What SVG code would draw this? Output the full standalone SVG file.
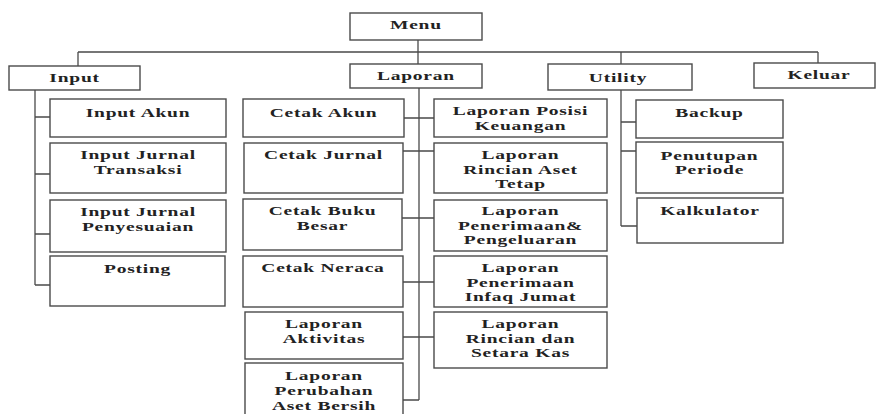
<svg xmlns="http://www.w3.org/2000/svg" width="876" height="414" viewBox="0 0 876 414">
<style>
.box{fill:#fff;stroke:#4a4a4a;stroke-width:1.4}
.ln{fill:none;stroke:#4a4a4a;stroke-width:1.3}
text{font-family:"Liberation Serif","Times New Roman",serif;font-size:13px;font-weight:bold;fill:#222;text-anchor:middle;letter-spacing:0.5px}
</style>
<rect width="876" height="414" fill="#fff"/>
<g id="connectors" class="ln">
<path d="M418 40V64M78 52H818M78 52V66M621 52V64M818 52V63"/>
<path d="M35 90V285M35 117H50M35 174H50M35 234H50M35 285H50"/>
<path d="M419 88V400M404 118H434M403 151H434M402 218H434M403 282H434M403 337H434M403 400H419"/>
<path d="M621 90V226M621 122H636M621 151H636M621 226H637"/>
</g>
<g id="menu"><rect class="box" x="350" y="13" width="132" height="27"/></g>
<g id="input"><rect class="box" x="9" y="66" width="131" height="24"/></g>
<g id="laporan"><rect class="box" x="350" y="64" width="132" height="24"/></g>
<g id="utility"><rect class="box" x="548" y="64" width="144" height="26"/></g>
<g id="keluar"><rect class="box" x="754" y="63" width="121" height="25"/></g>
<g id="input-akun"><rect class="box" x="50" y="99" width="176" height="38"/></g>
<g id="input-jurnal-transaksi"><rect class="box" x="50" y="143" width="176" height="50"/></g>
<g id="input-jurnal-penyesuaian"><rect class="box" x="50" y="200" width="176" height="52"/></g>
<g id="posting"><rect class="box" x="50" y="256" width="175" height="50"/></g>
<g id="cetak-akun"><rect class="box" x="243" y="99" width="161" height="38"/></g>
<g id="cetak-jurnal"><rect class="box" x="244" y="143" width="159" height="50"/></g>
<g id="cetak-buku-besar"><rect class="box" x="243" y="199" width="159" height="51"/></g>
<g id="cetak-neraca"><rect class="box" x="243" y="256" width="160" height="51"/></g>
<g id="laporan-aktivitas"><rect class="box" x="245" y="312" width="158" height="47"/></g>
<g id="laporan-perubahan"><rect class="box" x="245" y="363" width="158" height="56"/></g>
<g id="laporan-posisi"><rect class="box" x="434" y="99" width="173" height="38"/></g>
<g id="laporan-rincian-aset"><rect class="box" x="434" y="143" width="173" height="50"/></g>
<g id="laporan-penerimaan-pengeluaran"><rect class="box" x="434" y="200" width="173" height="51"/></g>
<g id="laporan-infaq"><rect class="box" x="434" y="256" width="173" height="51"/></g>
<g id="laporan-rincian-kas"><rect class="box" x="434" y="312" width="173" height="56"/></g>
<g id="backup"><rect class="box" x="636" y="100" width="147" height="38"/></g>
<g id="penutupan"><rect class="box" x="636" y="142" width="147" height="51"/></g>
<g id="kalkulator"><rect class="box" x="637" y="198" width="146" height="45"/></g>
<g id="labels" transform="scale(1.5 1)">
<text x="277.3" y="29">Menu</text>
<text x="49.7" y="82">Input</text>
<text x="277.3" y="80">Laporan</text>
<text x="412" y="82">Utility</text>
<text x="546" y="79">Keluar</text>
<text x="92" y="117">Input Akun</text>
<text x="92" y="159">Input Jurnal</text>
<text x="92" y="174">Transaksi</text>
<text x="92" y="216">Input Jurnal</text>
<text x="92" y="231">Penyesuaian</text>
<text x="91.7" y="273">Posting</text>
<text x="215.7" y="117">Cetak Akun</text>
<text x="215.7" y="159">Cetak Jurnal</text>
<text x="215" y="215">Cetak Buku</text>
<text x="215" y="230">Besar</text>
<text x="215.3" y="272">Cetak Neraca</text>
<text x="216" y="328">Laporan</text>
<text x="216" y="343">Aktivitas</text>
<text x="216" y="380">Laporan</text>
<text x="216" y="395">Perubahan</text>
<text x="216" y="410">Aset Bersih</text>
<text x="347" y="115">Laporan Posisi</text>
<text x="347" y="130">Keuangan</text>
<text x="347" y="159">Laporan</text>
<text x="347" y="174">Rincian Aset</text>
<text x="347" y="188">Tetap</text>
<text x="347" y="215">Laporan</text>
<text x="347" y="230">Penerimaan&amp;</text>
<text x="347" y="244">Pengeluaran</text>
<text x="347" y="272">Laporan</text>
<text x="347" y="287">Penerimaan</text>
<text x="347" y="301">Infaq Jumat</text>
<text x="347" y="328">Laporan</text>
<text x="347" y="343">Rincian dan</text>
<text x="347" y="357">Setara Kas</text>
<text x="473" y="117">Backup</text>
<text x="473" y="160">Penutupan</text>
<text x="473" y="174">Periode</text>
<text x="473.3" y="215">Kalkulator</text>
</g>
</svg>
